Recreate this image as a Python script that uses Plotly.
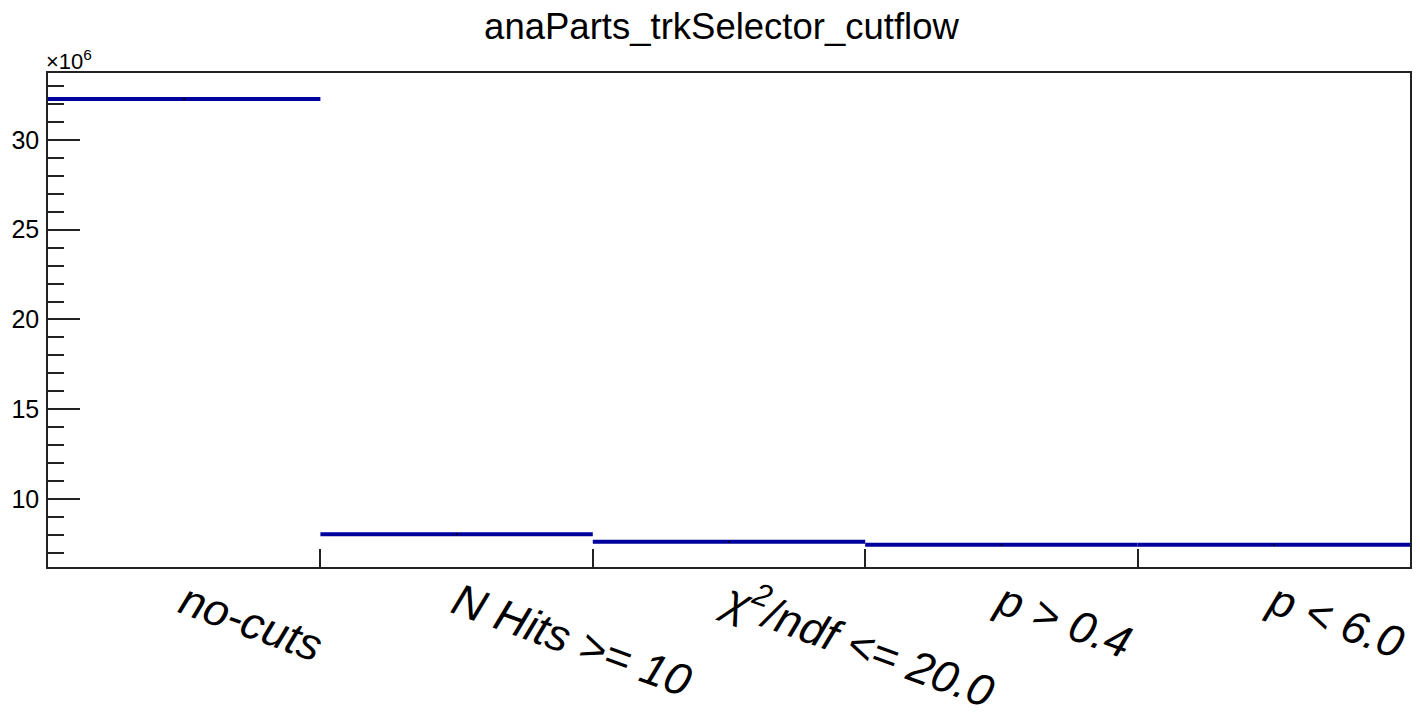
import plotly.graph_objects as go

# Data (counts in units of 10^6)
categories = ["no-cuts", "N Hits >= 10", "χ<sup>2</sup>/ndf &lt;= 20.0", "p > 0.4", "p &lt; 6.0"]
counts_millions = [32.28, 8.03, 7.62, 7.45, 7.45]
y_tick_values = [10, 15, 20, 25, 30]
y_tick_labels = ["10", "15", "20", "25", "30"]

n = len(categories)
edges = list(range(n + 1))
centers = [i + 0.5 for i in range(n)]

# horizontal-only step segments (ROOT hist style, no connecting verticals)
seg_x, seg_y = [], []
for i, v in enumerate(counts_millions):
    seg_x += [edges[i], edges[i + 1], None]
    seg_y += [v, v, None]

LINE = "#00009c"
FONT = "Liberation Sans, Arial, sans-serif"

fig = go.Figure()
fig.add_trace(go.Scatter(x=seg_x, y=seg_y, mode="lines",
                         line=dict(color=LINE, width=4), hoverinfo="skip",
                         showlegend=False))
fig.add_trace(go.Scatter(x=centers, y=counts_millions, mode="markers",
                         marker=dict(color="black", size=2), showlegend=False))
# invisible trace to activate second x axis for the labels
fig.add_trace(go.Scatter(x=centers, y=counts_millions, xaxis="x2", mode="markers",
                         marker=dict(opacity=0), hoverinfo="skip", showlegend=False))

fig.update_layout(
    template="none",
    width=1412, height=705,
    paper_bgcolor="white", plot_bgcolor="white",
    margin=dict(l=40, r=10, t=65, b=146, autoexpand=False),
    title=dict(text="anaParts_trkSelector_cutflow", x=0.5053, xanchor="center",
               y=0.974, yanchor="middle",
               font=dict(family=FONT, size=36.5, color="black")),
    xaxis=dict(range=[0, n], tickvals=edges[1:-1], ticktext=[""] * (n - 1),
               ticks="inside", ticklen=18, tickwidth=1.5, tickcolor="#222",
               showgrid=False, zeroline=False, showline=True, linecolor="#222",
               linewidth=1.5, mirror=True, fixedrange=True, automargin=False),
    xaxis2=dict(range=[0, n], overlaying="x", side="bottom", tickvals=centers,
                ticktext=categories, tickangle=20, ticks="", showgrid=False,
                zeroline=False, showline=False, ticklabelstandoff=0, automargin=False,
                tickfont=dict(family=FONT, size=45, color="black", style="italic")),
    yaxis=dict(range=[6.21, 33.73], tickvals=y_tick_values, ticktext=y_tick_labels,
               ticks="inside", ticklen=32, tickwidth=1.5, tickcolor="#222",
               minor=dict(dtick=1, tick0=0, ticks="inside", ticklen=16,
                          tickwidth=1.5, tickcolor="#222", showgrid=False),
               showgrid=False, zeroline=False, showline=True, linecolor="#222",
               linewidth=1.5, mirror=True, ticklabelstandoff=2, automargin=False,
               tickfont=dict(family=FONT, size=25, color="black")),
    annotations=[dict(text="×10<sup>6</sup>", xref="paper", yref="paper",
                      x=0, y=1, xanchor="left", yanchor="bottom", showarrow=False,
                      xshift=-4, yshift=-3,
                      font=dict(family=FONT, size=22, color="black"))],
)

fig.write_html("out.html")
